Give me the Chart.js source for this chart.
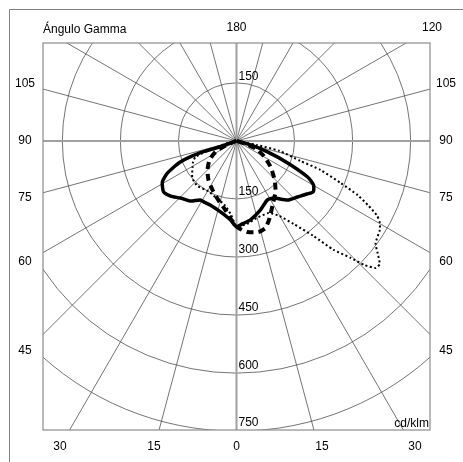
<!DOCTYPE html>
<html>
<head>
<meta charset="utf-8">
<script src="https://cdn.jsdelivr.net/npm/chart.js@4/dist/chart.umd.min.js"></script>
<style>
    body { margin: 0; background: #fff; }
    #wrap { width: 463px; height: 462px; position: relative; }
</style>
</head>
<body>
<div id="wrap"><canvas id="chart"></canvas></div>
<script>
    // gamma angle (deg, negative = left half) and intensity (cd/klm)
    const solidGamma = [-85, -71, -72, -69.5, -65, -61, -55, -50, -44.5, -37.5, -31.5, -27, -22, -12.7, -4.3, 0, 4, 10, 19, 27.7, 33, 40.8, 47.4, 53, 56.5, 60.3, 63.1, 66.7, 70.5, 74, 85];
    const solidI = [0, 52, 98, 155, 197, 219, 230, 222, 207, 196, 179, 179, 179, 188, 205, 222, 215, 207, 189, 172, 176, 202, 214, 228, 238, 229, 206, 144, 85, 38, 0];

    const dashGamma = [-85, -68, -62.4, -54.9, -45, -35.7, -26.1, -17, -9.1, -3.6, 1.3, 6.9, 13.6, 18.4, 23.2, 29.4, 37.4, 44.3, 52.6, 60.3, 68.2, 72, 85];
    const dashI = [0, 30, 61, 85, 106, 124, 141, 160, 181, 205, 225, 237, 242, 237, 217, 190, 166, 141, 111, 83, 56, 25, 0];

    const dotGamma = [-85, -78, -72, -70.5, -68.7, -64, -59.4, -50, -40.9, -30.1, -18.1, -10.6, -4.7, 0, 7.5, 14.6, 24, 29.8, 34.5, 39, 41.7, 44.3, 45.9, 47.6, 49.3, 51.5, 53.7, 58.1, 60.5, 62.1, 63.8, 65.9, 68, 70.9, 72.6, 76.9, 78.7, 85];
    const dotI = [0, 20, 60, 85, 114, 125, 132, 149, 154, 149, 158, 168, 189, 220, 216, 206, 204, 224, 260, 316, 377, 422, 461, 487, 488, 466, 446, 436, 425, 410, 381, 343, 290, 230, 173, 114, 53, 0];

    const rings = [150, 300, 450, 600, 750];
    const sideLabels = ['105', '90', '75', '60', '45'];
    const bottomLabels = ['30', '15', '0', '15', '30'];

    function toXY(gammas, values) {
        return gammas.map((g, i) => {
            const a = g * Math.PI / 180;
            return { x: values[i] * Math.sin(a), y: -values[i] * Math.cos(a) };
        });
    }

    const gridPlugin = {
        id: 'polarGrid',
        beforeDraw(chart) {
            const ctx = chart.ctx;
            const area = chart.chartArea;
            const xs = chart.scales.x, ys = chart.scales.y;
            const cx = xs.getPixelForValue(0), cy = ys.getPixelForValue(0);
            const unit = xs.getPixelForValue(1) - cx;

            ctx.save();
            // outer frame
            ctx.strokeStyle = '#808080';
            ctx.lineWidth = 1;
            ctx.beginPath();
            ctx.moveTo(9.5, 470);
            ctx.lineTo(9.5, 9.5);
            ctx.lineTo(470, 9.5);
            ctx.stroke();

            ctx.beginPath();
            ctx.rect(area.left, area.top, area.right - area.left, area.bottom - area.top);
            ctx.clip();

            ctx.strokeStyle = '#505050';
            ctx.lineWidth = 0.8;
            rings.forEach(r => {
                ctx.beginPath();
                ctx.arc(cx, cy, r * unit, 0, Math.PI * 2);
                ctx.stroke();
            });
            for (let a = 0; a < 360; a += 15) {
                if (a % 90 === 0) continue;
                const t = a * Math.PI / 180;
                ctx.beginPath();
                ctx.moveTo(cx, cy);
                ctx.lineTo(cx + 1000 * unit * Math.sin(t), cy + 1000 * unit * Math.cos(t));
                ctx.stroke();
            }
            ctx.strokeStyle = '#a0a0a0';
            ctx.lineWidth = 2;
            ctx.beginPath();
            ctx.moveTo(area.left, cy);
            ctx.lineTo(area.right, cy);
            ctx.moveTo(cx, area.top);
            ctx.lineTo(cx, area.bottom);
            ctx.stroke();
            ctx.restore();

            ctx.save();
            ctx.strokeStyle = '#8c8c8c';
            ctx.lineWidth = 1.2;
            ctx.strokeRect(area.left, area.top, area.right - area.left, area.bottom - area.top);

            // texts
            ctx.fillStyle = '#000';
            ctx.font = '12px "Liberation Sans", Arial, sans-serif';
            ctx.textBaseline = 'middle';
            ctx.textAlign = 'left';
            ctx.fillText('Ángulo Gamma', area.left, 30);
            ctx.textAlign = 'center';
            ctx.fillText('180', cx, 28);
            ctx.fillText('120', 432, 28);
            const sideY = [84, 141, 198, 262, 351];
            sideLabels.forEach((s, i) => {
                ctx.fillText(s, 25, sideY[i]);
                ctx.fillText(s, 446, sideY[i]);
            });
            const botX = [60, 154, cx, 322, 415];
            bottomLabels.forEach((s, i) => ctx.fillText(s, botX[i], 447));

            ctx.textAlign = 'left';
            ctx.fillText(String(rings[0]), cx + 2, cy - rings[0] * unit - 6);
            rings.forEach(r => {
                ctx.fillText(String(r), cx + 2, Math.min(cy + r * unit, area.bottom) - 7);
            });
            ctx.textAlign = 'right';
            ctx.fillText('cd/klm', area.right - 1, area.bottom - 6);
            ctx.restore();
        }
    };

    new Chart(document.getElementById('chart'), {
        type: 'scatter',
        data: {
            datasets: [
                {
                    label: 'solid',
                    data: toXY(solidGamma, solidI),
                    showLine: true,
                    borderColor: '#000',
                    borderWidth: 3.5,
                    pointRadius: 0,
                    tension: 0.2,
                },
                {
                    label: 'dashed',
                    data: toXY(dashGamma, dashI),
                    showLine: true,
                    borderColor: '#000',
                    borderWidth: 4,
                    borderDash: [7, 5],
                    pointRadius: 0,
                    tension: 0.2,
                },
                {
                    label: 'dotted',
                    data: toXY(dotGamma, dotI),
                    showLine: true,
                    borderColor: '#000',
                    borderWidth: 2,
                    borderDash: [2, 2.5],
                    pointRadius: 0,
                    tension: 0.2,
                },
            ],
        },
        options: {
            responsive: true,
            maintainAspectRatio: false,
            animation: false,
            layout: { padding: { left: 43, top: 43, right: 33, bottom: 32 } },
            plugins: { legend: { display: false }, tooltip: { enabled: false } },
            scales: {
                x: { type: 'linear', min: -500, max: 500, display: false },
                y: { type: 'linear', min: -747, max: 253, display: false },
            },
        },
        plugins: [gridPlugin],
    });
</script>
</body>
</html>
